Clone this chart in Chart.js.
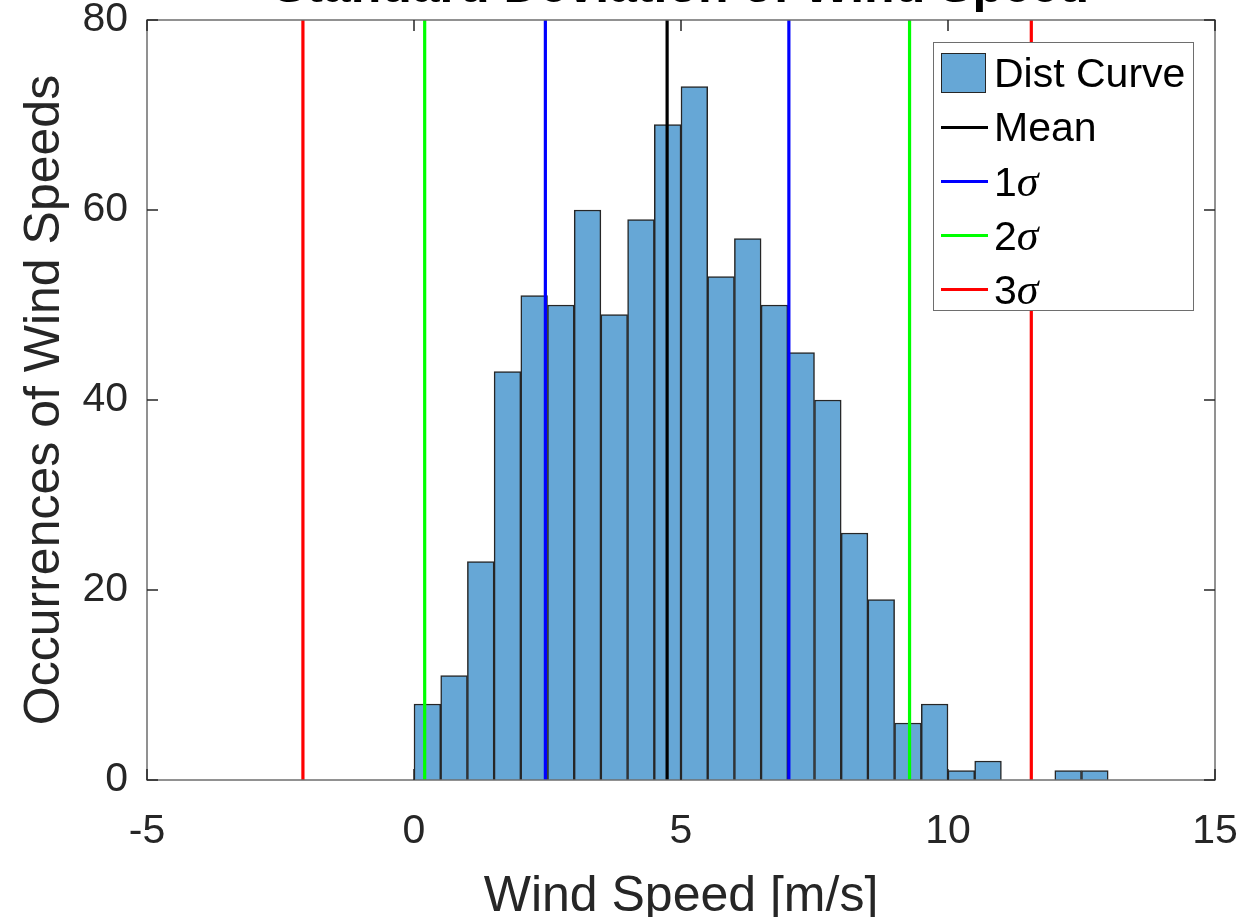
<!DOCTYPE html>
<html>
<head>
<meta charset="utf-8">
<script src="https://cdn.jsdelivr.net/npm/chart.js@4.4.0/dist/chart.umd.min.js"></script>
<style>
    body { margin: 0; background: #fff; }
    #wrap { position: relative; width: 1258px; height: 917px; overflow: hidden; }
    #legend {
        position: absolute; left: 933px; top: 42px; width: 259px; height: 267px;
        border: 1.5px solid #6e6e6e; background: #fff;
        font-family: "Liberation Sans", Arial, sans-serif; font-size: 41px; color: #000;
    }
    .row { position: absolute; left: 0; height: 54px; display: flex; align-items: center; white-space: nowrap; }
    .swatch { position: absolute; left: 7px; width: 45px; height: 40px; box-sizing: border-box; border: 1.5px solid #262626; }
    .sample { position: absolute; left: 7px; width: 47px; height: 3px; }
    .txt { position: absolute; left: 60px; }
    .sig { font-family: "Liberation Serif", serif; font-style: italic; font-size: 44px; }
</style>
</head>
<body>
<div id="wrap">
    <canvas id="chart" width="1258" height="917"></canvas>
    <div id="legend"></div>
</div>
<script>
// Histograma (bins de 0.5 m/s)
const binCenters = [0.25, 0.75, 1.25, 1.75, 2.25, 2.75, 3.25, 3.75, 4.25, 4.75, 5.25, 5.75, 6.25,
    6.75, 7.25, 7.75, 8.25, 8.75, 9.25, 9.75, 10.25, 10.75, 11.25, 11.75, 12.25, 12.75];
const counts = [8, 11, 23, 43, 51, 50, 60, 49, 59, 69, 73, 53, 57,
    50, 45, 40, 26, 19, 6, 8, 1, 2, 0, 0, 1, 1];

// Linhas verticais: média e desvios
const lineLabels = ['Mean', '1\u03c3', '2\u03c3', '3\u03c3'];
const lineColors = ['#000000', '#0000ff', '#00ff00', '#ff0000'];
const lineLow = [4.74, 2.46, 0.2, -2.08];
const lineHigh = [4.74, 7.02, 9.28, 11.56];

const xTicks = [-5, 0, 5, 10, 15];
const yTicks = [0, 20, 40, 60, 80];

const barColor = 'rgb(102, 167, 214)';
const textColor = '#262626';

const datasets = [{
    type: 'bar',
    label: 'Dist Curve',
    data: binCenters.map((x, i) => ({ x: x, y: counts[i] })),
    backgroundColor: barColor,
    borderColor: '#262626',
    borderWidth: 1.5,
    barPercentage: 1,
    categoryPercentage: 1,
    order: 2
}];

lineLabels.forEach((label, i) => {
    [lineLow[i], lineHigh[i]].forEach((v, k) => {
        if (k === 1 && v === lineLow[i]) return;
        datasets.push({
            type: 'line',
            label: label,
            data: [{ x: v, y: yTicks[0] }, { x: v, y: yTicks[yTicks.length - 1] }],
            borderColor: lineColors[i],
            borderWidth: 3.2,
            pointRadius: 0,
            fill: false,
            order: 1
        });
    });
});

// Caixa e ticks internos (estilo MATLAB)
const boxPlugin = {
    id: 'box',
    afterDraw(chart) {
        const { ctx, chartArea: a, scales } = chart;
        ctx.save();
        ctx.strokeStyle = '#6e6e6e';
        ctx.lineWidth = 1.5;
        ctx.strokeRect(a.left, a.top, a.right - a.left, a.bottom - a.top);
        ctx.strokeStyle = textColor;
        ctx.beginPath();
        xTicks.forEach(t => {
            const px = scales.x.getPixelForValue(t);
            ctx.moveTo(px, a.bottom); ctx.lineTo(px, a.bottom - 11);
            ctx.moveTo(px, a.top); ctx.lineTo(px, a.top + 11);
        });
        yTicks.forEach(t => {
            const py = scales.y.getPixelForValue(t);
            ctx.moveTo(a.left, py); ctx.lineTo(a.left + 11, py);
            ctx.moveTo(a.right, py); ctx.lineTo(a.right - 11, py);
        });
        ctx.stroke();
        ctx.restore();
    }
};

const font = 'Liberation Sans, Arial, sans-serif';

new Chart(document.getElementById('chart'), {
    type: 'bar',
    data: { datasets: datasets },
    options: {
        responsive: false,
        animation: false,
        layout: { padding: { left: 0, right: 43, top: 0, bottom: 0 } },
        plugins: {
            legend: { display: false },
            tooltip: { enabled: false },
            title: {
                display: true,
                fullSize: false,
                text: 'Standard Deviation of Wind Speed',
                color: '#000',
                font: { family: font, size: 50, weight: 'bold', lineHeight: 1.2 },
                padding: { top: -42, bottom: 2 }
            }
        },
        scales: {
            x: {
                type: 'linear',
                min: -5,
                max: 15,
                offset: false,
                grid: { display: false, drawTicks: false },
                border: { display: false },
                ticks: {
                    stepSize: 5,
                    color: textColor,
                    padding: 27,
                    maxRotation: 0,
                    font: { family: font, size: 41 }
                },
                title: {
                    display: true,
                    text: 'Wind Speed [m/s]',
                    color: textColor,
                    font: { family: font, size: 50, lineHeight: 0.8 },
                    padding: 0
                },
                afterFit(scale) {
                    scale.height = 137;
                    scale.paddingLeft = 0;
                    scale.paddingRight = 0;
                }
            },
            y: {
                min: 0,
                max: 80,
                grid: { display: false, drawTicks: false },
                border: { display: false },
                ticks: {
                    stepSize: 20,
                    color: textColor,
                    padding: 19,
                    font: { family: font, size: 41 }
                },
                title: {
                    display: true,
                    text: 'Occurrences of Wind Speeds',
                    color: textColor,
                    font: { family: font, size: 50, lineHeight: 0.8 },
                    padding: { top: 25, bottom: 0 }
                },
                afterFit(scale) {
                    scale.width = 147;
                    scale.paddingTop = 0;
                    scale.paddingBottom = 0;
                }
            }
        }
    },
    plugins: [boxPlugin]
});

// Legenda em HTML dentro da área do gráfico
const legend = document.getElementById('legend');
const entries = [{ label: 'Dist Curve', color: barColor, bar: true }]
    .concat(lineLabels.map((l, i) => ({ label: l, color: lineColors[i] })));
entries.forEach((e, i) => {
    const row = document.createElement('div');
    row.className = 'row';
    row.style.top = (3 + i * 54) + 'px';
    const mark = document.createElement('div');
    mark.className = e.bar ? 'swatch' : 'sample';
    mark.style.background = e.color;
    const txt = document.createElement('span');
    txt.className = 'txt';
    txt.innerHTML = e.label.replace('\u03c3', '<span class="sig">\u03c3</span>');
    row.appendChild(mark);
    row.appendChild(txt);
    legend.appendChild(row);
});
</script>
</body>
</html>
